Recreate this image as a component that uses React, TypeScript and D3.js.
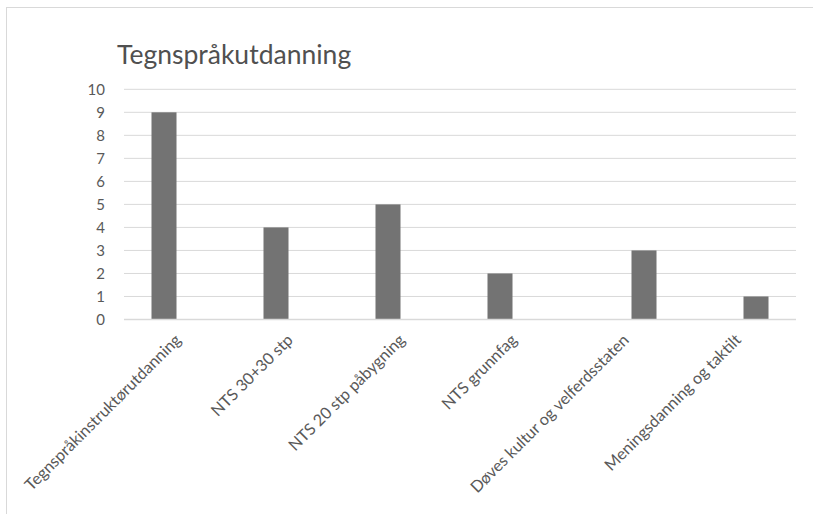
import React from "react";
import * as d3 from "d3";

const categories = [
  "Tegnspråkinstruktørutdanning",
  "NTS 30+30 stp",
  "NTS 20 stp påbygning",
  "NTS grunnfag",
  "Døves kultur og velferdsstaten",
  "Meningsdanning og taktilt",
];
const seriesNames = ["Serie 1", "Serie 2"];
const serie1: (number | null)[] = [9, 4, 5, 2, null, null];
const serie2: (number | null)[] = [null, null, null, null, 3, 1];
const yTicks = [0, 1, 2, 3, 4, 5, 6, 7, 8, 9, 10];
const title = "Tegnspråkutdanning";

const W = 813;
const H = 514;
const plot = { left: 124, right: 796, top: 89.3, bottom: 319.5 };
const FONT = "Lato, 'Open Sans', sans-serif";

export default function App() {
  const x = d3.scaleBand<string>().domain(categories).range([plot.left, plot.right]);
  const xInner = d3
    .scaleBand<string>()
    .domain(seriesNames)
    .range([27.5, 84.5])
    .paddingInner(7 / 32);
  const y = d3.scaleLinear().domain([0, 10]).range([plot.bottom, plot.top]);

  const bars: { key: string; x: number; y: number; w: number; h: number }[] = [];
  [serie1, serie2].forEach((vals, si) => {
    vals.forEach((v, i) => {
      if (v == null) return;
      const bx = (x(categories[i]) as number) + (xInner(seriesNames[si]) as number);
      bars.push({ key: `${si}-${i}`, x: bx, y: y(v), w: xInner.bandwidth(), h: y(0) - y(v) });
    });
  });

  return (
    <svg
      width={W}
      height={H}
      style={{ position: "absolute", left: 0, top: 0, background: "#fff" }}
      fontFamily={FONT}
    >
      <rect x={6.5} y={7.5} width={900} height={600} fill="#fff" stroke="#d9d9d9" strokeWidth={1} />
      <text x={117} y={64} fontSize={26.5} fill="#505050">
        {title}
      </text>
      {yTicks.map((t) => (
        <g key={t}>
          <line x1={plot.left} x2={plot.right} y1={y(t)} y2={y(t)} stroke="#d9d9d9" strokeWidth={1} />
          <text x={105} y={y(t)} dy="0.36em" textAnchor="end" fontSize={15} fill="#595959">
            {t}
          </text>
        </g>
      ))}
      {bars.map((b) => (
        <rect key={b.key} x={b.x} y={b.y} width={b.w} height={b.h} fill="#737373" />
      ))}
      <line x1={plot.left} x2={plot.right} y1={y(0)} y2={y(0)} stroke="#d9d9d9" strokeWidth={1.5} />
      {categories.map((c) => {
        const cx = (x(c) as number) + x.bandwidth() / 2;
        return (
          <text
            key={c}
            transform={`translate(${cx + 2},${341}) rotate(-45)`}
            textAnchor="end"
            fontSize={16.2}
            fill="#595959"
          >
            {c}
          </text>
        );
      })}
    </svg>
  );
}
